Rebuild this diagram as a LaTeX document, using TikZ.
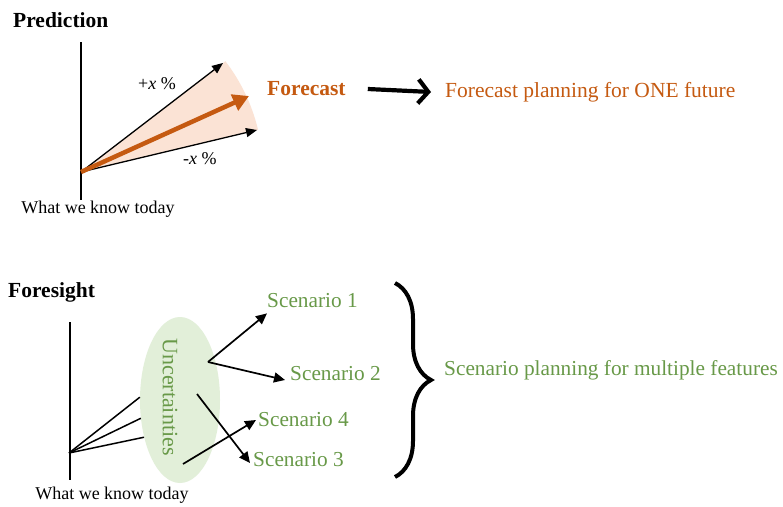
\documentclass[tikz,border=0pt]{standalone}
\usepackage{fontspec}
\setmainfont{Liberation Serif}
\usetikzlibrary{arrows.meta,decorations.pathreplacing,shapes.geometric,calc}
\definecolor{orng}{RGB}{197,90,17}
\definecolor{wedgecol}{RGB}{251,227,213}
\definecolor{grn}{RGB}{104,153,72}
\definecolor{ellfill}{RGB}{226,239,217}
\begin{document}
\begin{tikzpicture}[x=1pt,y=-1pt,
  lbl/.style={inner sep=0pt, anchor=west, font=\fontsize{18}{20}\selectfont},
  head/.style={inner sep=0pt, anchor=west, font=\fontsize{21.5}{24}\selectfont\bfseries},
  scen/.style={inner sep=0pt, anchor=west, text=grn, font=\fontsize{21.3}{24}\selectfont},
  axisline/.style={line width=1.5pt},
  tarr/.style={line width=1.3pt, -{Triangle[length=11pt,width=9pt]}},
  sarr/.style={line width=1.7pt, -{Triangle[length=11pt,width=10pt]}}]
\useasboundingbox (0,0) rectangle (783,506);
\fill[white] (0,0) rectangle (783,506);

% ---------- Prediction ----------
\node[head] (pred) at (13,20) {Prediction};
\coordinate (ax1t) at (81,42);
\coordinate (ax1b) at (81,200);
\coordinate (O1) at (81,172);
\coordinate (tp) at (223,63);
\coordinate (tm) at (257,130);
\coordinate (tf) at (249,96);
\fill[wedgecol] (O1) -- plot[domain=-37.5:-13.4,variable=\t,samples=30] ({81+182*cos(\t)},{172+182*sin(\t)}) -- cycle;
\draw[axisline] (ax1t) -- (ax1b);
\draw[tarr] (O1) -- (tp);
\draw[tarr] (O1) -- (tm);
\draw[orng, line width=4.5pt, -{Triangle[length=16pt,width=17pt]}] (O1) -- (tf);
\node[lbl] (px) at (138,84) {+\textit{x} \%};
\node[lbl] (mx) at (183,159) {-\textit{x} \%};
\node[lbl, anchor=center] (w1) at (98,209) {What we know today};
\node[head, text=orng] (fc) at (267,89) {Forecast};
\node[inner sep=0pt, anchor=west, text=orng, font=\fontsize{21.5}{24}\selectfont] (fp) at (445,92) {Forecast planning for ONE future};
\draw[line width=4.2pt, -{Straight Barb[length=10pt,width=24pt]}] ([xshift=22pt]fc.east) -- ([xshift=-14pt]fp.west);

% ---------- Foresight ----------
\node[head] (fore) at (8,292) {Foresight};
\coordinate (ax2t) at (70,322);
\coordinate (ax2b) at (70,480);
\coordinate (O2) at (69,453);
\draw[axisline] (ax2t) -- (ax2b);
\node[ellipse, fill=ellfill, minimum width=80pt, minimum height=166pt, inner sep=0pt] (ell) at (180,400) {};
\node[rotate=-90, inner sep=0pt, text=grn, font=\fontsize{22}{24}\selectfont] (unc) at (170,397) {Uncertainties};
\draw[axisline] (O2) -- (ell.176);
\draw[axisline] (O2) -- (ell.205);
\draw[axisline] (O2) -- (ell.226);

\node[scen] (s1) at (267,301) {Scenario 1};
\node[scen] (s2) at (290,374) {Scenario 2};
\node[scen] (s4) at (258,420) {Scenario 4};
\node[scen] (s3) at (253,460) {Scenario 3};

\coordinate (u1) at (208,362);
\coordinate (u2) at (197,394);
\coordinate (u3) at (183,464);
\draw[sarr] (u1) -- ([yshift=-5pt]s1.south west);
\draw[sarr] (u1) -- ([xshift=-5pt,yshift=-6pt]s2.west);
\draw[sarr] (u2) -- ([xshift=-3pt,yshift=-3pt]s3.west);
\draw[sarr] (u3) -- ([xshift=-2pt]s4.west);

\coordinate (br1) at (395,283);
\coordinate (br2) at (395,477);
\draw[line width=4pt, decorate, decoration={brace, amplitude=36pt}] (br1) -- (br2);
\node[scen] (sp) at (444,370) {Scenario planning for multiple features};
\node[lbl, anchor=center] (w2) at (112,495) {What we know today};
\end{tikzpicture}
\end{document}
